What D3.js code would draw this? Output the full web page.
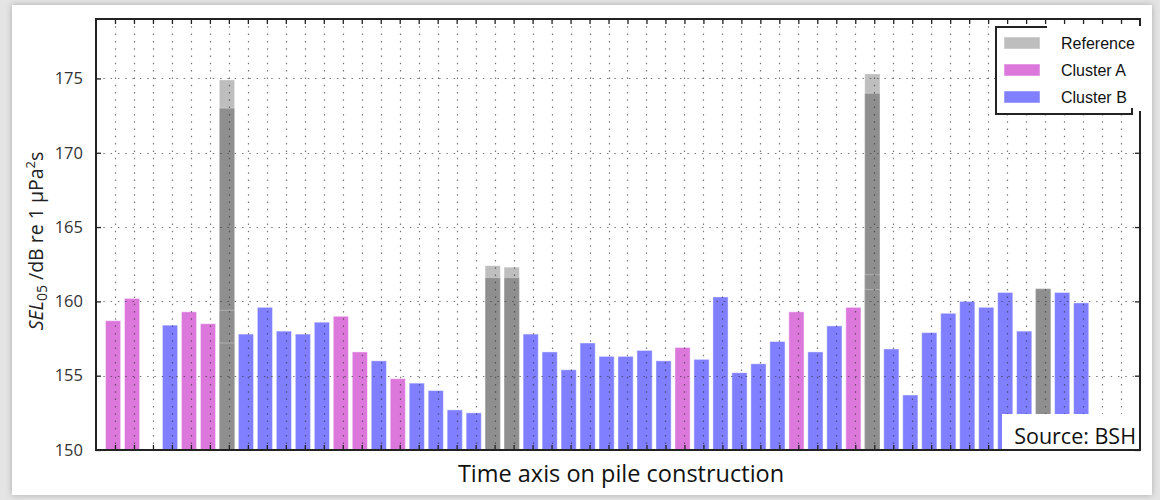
<!DOCTYPE html>
<html>
<head>
<meta charset="utf-8">
<script src="https://cdn.jsdelivr.net/npm/d3@7"></script>
<style>
  html, body { margin: 0; padding: 0; background: #e4e4e4; }
  svg { display: block; }
</style>
</head>
<body>
<svg id="chart" width="1160" height="500"></svg>
<script>
// one slot per pile on the time axis, "" = empty slot, R = reference pile
const pileGroup = ["A","A","","B","A","A","R","B","B","B","B","B","A","A","B","A","B","B","B","B",
  "R","R","B","B","B","B","B","B","B","B","A","B","B","B","B","B","A","B","B","A",
  "R","B","B","B","B","B","B","B","B","R","B","B","",""];
const sel05 = [158.7,160.2,null,158.4,159.3,158.5,null,157.8,159.6,158.0,157.8,158.6,159.0,156.6,156.0,154.8,154.5,154.0,152.7,152.5,
  null,null,157.8,156.6,155.4,157.2,156.3,156.3,156.7,156.0,156.9,156.1,160.3,155.2,155.8,157.3,159.3,156.6,158.35,159.6,
  null,156.8,153.7,157.9,159.2,160.0,159.6,160.6,158.0,null,160.6,159.9,null,null];

// reference piles: overlapping transparent bars
const refSlots = [6, 20, 21, 40, 49];
const refLevels = [
  [174.9, 173.0, 159.4, 157.2],
  [162.4, 161.6],
  [162.3, 161.6],
  [175.3, 174.0, 161.8, 160.8],
  [160.85, 160.85]
];

const yTicks = [150, 155, 160, 165, 170, 175];
const legendNames = ["Reference", "Cluster A", "Cluster B"];
const colors = { R: "#bebebe", A: "#dc78dc", B: "#7f7fff" };

const svg = d3.select("#chart");

const defs = svg.append("defs");
defs.append("filter").attr("id", "shadow")
  .attr("x", -0.05).attr("y", -0.05).attr("width", 1.1).attr("height", 1.1)
  .append("feDropShadow").attr("dx", 0).attr("dy", 0).attr("stdDeviation", 3)
  .attr("flood-color", "#000").attr("flood-opacity", 0.25);

// white panel
svg.append("rect").attr("x", 12).attr("y", 5).attr("width", 1140).attr("height", 490)
  .attr("fill", "#fff").attr("filter", "url(#shadow)");

const x = d3.scaleLinear().domain([-1, 54]).range([96, 1140]);
const y = d3.scaleLinear().domain([150, 179]).range([450, 19]);
const step = x(1) - x(0);

const plot = svg.append("g");

// normal bars
plot.selectAll("rect.bar")
  .data(sel05.map((v, i) => ({ v, i, g: pileGroup[i] })).filter(d => d.v != null))
  .join("rect")
  .attr("class", "bar")
  .attr("x", d => x(d.i - 0.5))
  .attr("width", step * 0.8)
  .attr("y", d => y(d.v))
  .attr("height", d => y(150) - y(d.v))
  .attr("fill", d => colors[d.g])
  .attr("stroke", "rgba(255,255,255,0.45)")
  .attr("stroke-width", 1);

// reference bars, drawn in layers
refSlots.forEach((slot, k) => {
  plot.selectAll(null)
    .data(refLevels[k])
    .join("rect")
    .attr("x", x(slot - 0.5))
    .attr("width", step * 0.8)
    .attr("y", d => y(d))
    .attr("height", d => y(150) - y(d))
    .attr("fill", (d, j) => j == 0 ? "#bebebe" : "#8f8f8f")
    .attr("stroke", "rgba(255,255,255,0.3)")
    .attr("stroke-width", 1);
});

// dotted grid on top of the bars
const grid = svg.append("g").attr("stroke", "#333").attr("stroke-width", 1.2)
  .attr("stroke-dasharray", "1.5,5.8").attr("opacity", 0.65);
grid.selectAll("line.v")
  .data(d3.range(0, 54))
  .join("line")
  .attr("x1", d => Math.round(x(d)) + 0.5).attr("x2", d => Math.round(x(d)) + 0.5)
  .attr("y1", y(179)).attr("y2", y(150));
grid.selectAll("line.h")
  .data(yTicks.slice(1))
  .join("line")
  .attr("x1", x(-1)).attr("x2", x(54))
  .attr("y1", d => Math.round(y(d)) + 0.5).attr("y2", d => Math.round(y(d)) + 0.5);

// axes with inward ticks on all four sides
const xTickVals = d3.range(0, 54);
svg.append("g").attr("transform", `translate(0,${y(150)})`)
  .call(d3.axisBottom(x).tickValues(xTickVals).tickSize(-5).tickFormat(""))
  .call(g => g.select(".domain").remove());
svg.append("g").attr("transform", `translate(0,${y(179)})`)
  .call(d3.axisTop(x).tickValues(xTickVals).tickSize(-5).tickFormat(""))
  .call(g => g.select(".domain").remove());
const yAxis = svg.append("g").attr("transform", `translate(${x(-1)},0)`)
  .call(d3.axisLeft(y).tickValues(yTicks).tickSize(-5).tickPadding(13).tickFormat(d3.format("d")))
  .call(g => g.select(".domain").remove());
yAxis.selectAll("text").attr("font-family", "'Open Sans', sans-serif").attr("font-size", 16.5).attr("fill", "#333");
svg.append("g").attr("transform", `translate(${x(54)},0)`)
  .call(d3.axisRight(y).tickValues(yTicks).tickSize(-5).tickFormat(""))
  .call(g => g.select(".domain").remove());
svg.selectAll(".tick line").attr("stroke", "#222").attr("stroke-width", 1.3);

// frame
svg.append("rect").attr("x", x(-1)).attr("y", y(179))
  .attr("width", x(54) - x(-1)).attr("height", y(150) - y(179))
  .attr("fill", "none").attr("stroke", "#222").attr("stroke-width", 2);

// source label box
svg.append("rect").attr("x", 1002).attr("y", 414).attr("width", 137).attr("height", 35).attr("fill", "#fff");
svg.append("text").attr("x", 1136).attr("y", 444).attr("text-anchor", "end")
  .attr("font-family", "'Open Sans', sans-serif").attr("font-size", 21.5).attr("fill", "#111")
  .text("Source: BSH");

// legend
const lg = svg.append("g");
lg.append("rect").attr("x", 996).attr("y", 26).attr("width", 147).attr("height", 85).attr("fill", "#fff");
lg.append("path").attr("fill", "none").attr("stroke", "#222").attr("stroke-width", 2)
  .attr("d", "M1047,27 H996 V114 H1132 V108");
legendNames.forEach((name, i) => {
  const key = ["R", "A", "B"][i];
  lg.append("rect").attr("x", 1004).attr("y", 37 + i * 27).attr("width", 36).attr("height", 12)
    .attr("fill", colors[key]).attr("stroke", "rgba(255,255,255,0.5)");
  lg.append("text").attr("x", 1061).attr("y", 48.5 + i * 27)
    .attr("font-family", "'Liberation Sans', Arial, sans-serif").attr("font-size", 16).attr("fill", "#111")
    .text(name);
});

// axis titles
svg.append("text").attr("x", 621).attr("y", 482).attr("text-anchor", "middle")
  .attr("font-family", "'Open Sans', sans-serif").attr("font-size", 23.5).attr("fill", "#111")
  .text("Time axis on pile construction");

const yl = svg.append("text")
  .attr("transform", "translate(43,241) rotate(-90)")
  .attr("text-anchor", "middle")
  .attr("font-family", "'Open Sans', sans-serif").attr("font-size", 19.5).attr("fill", "#222");
yl.append("tspan").attr("font-style", "italic").text("SEL");
yl.append("tspan").attr("font-size", 14).attr("dy", 4).text("05");
yl.append("tspan").attr("dy", -4).text(" /dB re 1 μPa");
yl.append("tspan").attr("font-size", 13).attr("dy", -8).text("2");
yl.append("tspan").attr("dy", 8).text("s");
</script>
</body>
</html>
